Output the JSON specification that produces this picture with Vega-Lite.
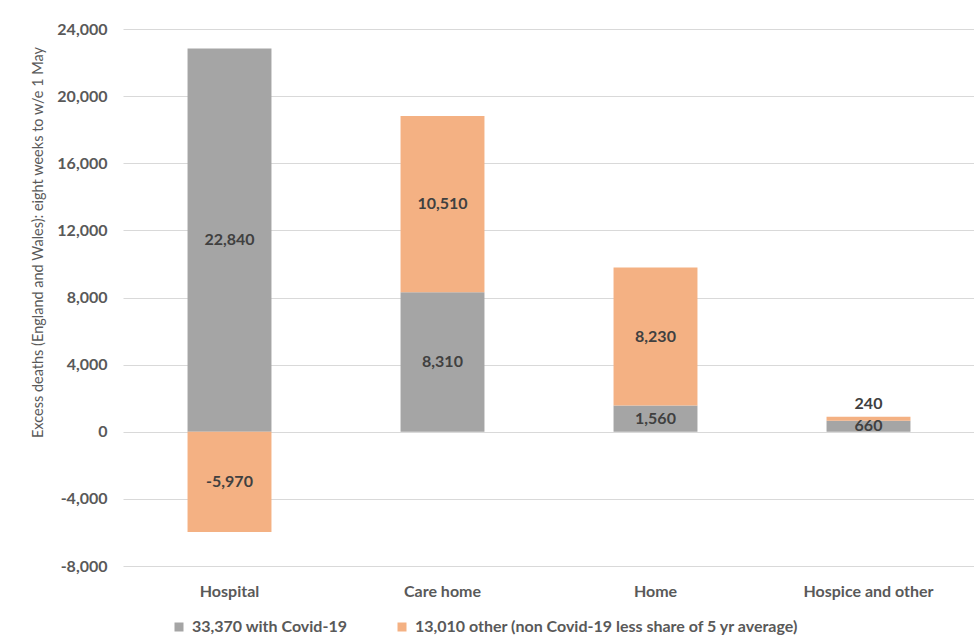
{
  "$schema": "https://vega.github.io/schema/vega-lite/v6.json",
  "width": 852,
  "height": 537,
  "autosize": "none",
  "padding": {"left": 123, "top": 29, "right": 0, "bottom": 75},
  "background": "white",
  "config": {
    "view": {"stroke": null},
    "font": "Lato",
    "locale": {"number": {"decimal": ".", "thousands": ",", "grouping": [3], "currency": ["$", ""], "minus": "-"}}
  },
  "data": {
    "values": [
      {"place": "Hospital", "series": "33,370 with Covid-19", "value": 22840},
      {"place": "Hospital", "series": "13,010 other (non Covid-19 less share of 5 yr average)", "value": -5970},
      {"place": "Care home", "series": "33,370 with Covid-19", "value": 8310},
      {"place": "Care home", "series": "13,010 other (non Covid-19 less share of 5 yr average)", "value": 10510},
      {"place": "Home", "series": "33,370 with Covid-19", "value": 1560},
      {"place": "Home", "series": "13,010 other (non Covid-19 less share of 5 yr average)", "value": 8230},
      {"place": "Hospice and other", "series": "33,370 with Covid-19", "value": 660},
      {"place": "Hospice and other", "series": "13,010 other (non Covid-19 less share of 5 yr average)", "value": 240}
    ]
  },
  "transform": [
    {"stack": "value", "groupby": ["place"], "sort": [{"field": "series", "order": "descending"}], "as": ["v0", "v1"]},
    {"calculate": "datum.value > 0 && abs(datum.v1 - datum.v0) < 500 ? datum.v1 + 750 : (datum.v0 + datum.v1) / 2", "as": "labelY"}
  ],
  "encoding": {
    "x": {
      "field": "place",
      "type": "nominal",
      "sort": ["Hospital", "Care home", "Home", "Hospice and other"],
      "scale": {"paddingInner": 0.606, "paddingOuter": 0.303},
      "axis": {
        "title": null,
        "domain": false,
        "ticks": false,
        "labelAngle": 0,
        "labelFontSize": 16,
        "labelFontWeight": "bold",
        "labelColor": "#595959",
        "labelPadding": 17
      }
    }
  },
  "layer": [
    {
      "mark": {"type": "bar"},
      "encoding": {
        "y": {
          "field": "v0",
          "type": "quantitative",
          "scale": {"domain": [-8000, 24000], "nice": false},
          "axis": {
            "values": [-8000, -4000, 0, 4000, 8000, 12000, 16000, 20000, 24000],
            "format": ",.0f",
            "domain": false,
            "ticks": false,
            "gridColor": "#d9d9d9",
            "labelFontSize": 16,
            "labelFontWeight": "bold",
            "labelColor": "#595959",
            "labelPadding": 16,
            "title": "Excess deaths (England and Wales): eight weeks to w/e 1 May",
            "titleFontSize": 14.5,
            "titleFontWeight": "normal",
            "titleColor": "#595959",
            "titleX": -85,
            "titleY": 213,
            "titleBaseline": "middle"
          }
        },
        "y2": {"field": "v1"},
        "color": {
          "field": "series",
          "type": "nominal",
          "scale": {
            "domain": ["33,370 with Covid-19", "13,010 other (non Covid-19 less share of 5 yr average)"],
            "range": ["#a5a5a5", "#f4b183"]
          },
          "legend": {
            "title": null,
            "orient": "none",
            "legendX": 48,
            "legendY": 590,
            "direction": "horizontal",
            "symbolType": "square",
            "symbolSize": 81,
            "symbolStrokeWidth": 0,
            "labelFontSize": 16,
            "labelFontWeight": "bold",
            "labelColor": "#595959",
            "labelLimit": 600,
            "labelOffset": 5,
            "columnPadding": 46
          }
        }
      }
    },
    {
      "mark": {"type": "text", "fontSize": 16, "fontWeight": "bold", "color": "#404040"},
      "encoding": {
        "y": {"field": "labelY", "type": "quantitative", "scale": {"domain": [-8000, 24000], "nice": false}},
        "text": {"field": "value", "type": "quantitative", "format": ","}
      }
    }
  ]
}
